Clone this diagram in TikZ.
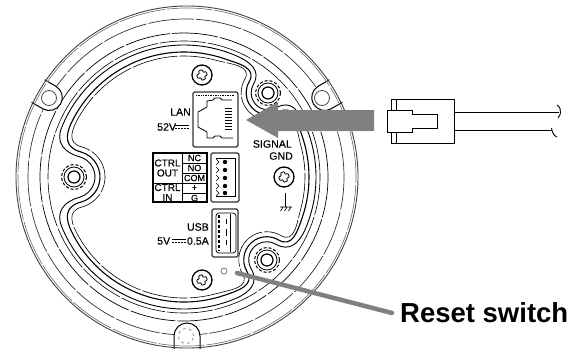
\documentclass[tikz,border=0pt]{standalone}
\usepackage{fontspec}
\setmainfont{Liberation Sans}
\newfontfamily\portfont[FakeBold=0.25]{Liberation Sans}
\usetikzlibrary{calc}

% one channel line of the housing: radius, bump radius, neck angle, style
\newcommand{\channelline}[4]{%
  \foreach \bossangle/\bossdist/\bossgap/\bossextra in {45/119/135/-1,180/110/135/3,315/117/90/0} {
    \begin{scope}[shift={(184,-177)},rotate=\bossangle]
      \draw[#4] (-#3:#1) .. controls +(90-#3:16) and +(345:16) .. ($(\bossdist,0)+(255:{#2+\bossextra})$)
        arc[start angle=255,end angle=105,radius={#2+\bossextra}]
        .. controls +(15:16) and +(270+#3:16) .. (#3:#1)
        arc[start angle=#3,delta angle={\bossgap-2*#3},radius=#1];
    \end{scope}
  }
}

\tikzset{
  lobe/.pic={
    \draw[line width=1pt,fill=white] (172,-13) -- (159,-13)
      arc[start angle=-90,delta angle=-180,radius=13] -- (172,13);
  },
  screwhead/.pic={
    \node[draw,circle,line width=1.3pt,minimum size=20pt,inner sep=0pt] {};
    \draw[rotate=20,line width=.8pt,rounded corners=.8pt] (-2,-2) -- (-2,-5) -- (2,-5) -- (2,-2) -- (5,-2)
      -- (5,2) -- (2,2) -- (2,5) -- (-2,5) -- (-2,2) -- (-5,2) -- (-5,-2) -- cycle;
  },
  boss/.pic={
    \draw[line width=1pt,densely dashed] (0,0) circle[radius=12.5];
    \draw[line width=.8pt] (0,0) circle[radius=10];
    \draw[line width=1.2pt] (0,0) circle[radius=6];
  }
}

\begin{document}
\begin{tikzpicture}[
    x=1pt,y=1pt,
    gapline/.style={dash pattern=on 46pt off 2pt},
    label/.style={font=\portfont\fontsize{10.6pt}{11pt}\selectfont,inner sep=0pt},
    small/.style={font=\portfont\fontsize{9pt}{9pt}\selectfont,inner sep=0pt},
    portedge/.style={draw=black!80,line width=1.3pt,rounded corners=1.5pt},
    greymark/.style={fill=black!50,draw=none},
    reset/.style={draw=black!50,line width=4.5pt,line cap=round}
    ]
    \useasboundingbox (0,0) rectangle (577,-353);

    % rings
    \draw[gapline,black!80,line width=.7pt] (186,-177) circle[radius=158];
    \draw[gapline,line width=.7pt] (184,-177) circle[radius=144];
    \draw[gapline,line width=.6pt] (184,-177) circle[radius=136];
    \channelline{132}{18}{22}{line width=.9pt}
    \channelline{125}{23}{26}{line width=1.1pt}
    \channelline{121}{28}{30}{gapline,line width=.6pt}

    % lobes and outer edge
    \foreach \lobeangle/\lobename in {150/upleft,30/upright,270/bottom}
      \pic (\lobename) [shift={(187,-177)},rotate=\lobeangle] {lobe};
    \draw[black!75,line width=.9pt] (187,-177) circle[radius=171];
    \draw[gapline,black!60,line width=.6pt] (187,-177) circle[radius=169];
    \draw[black!70,line width=.8pt] (49,-98) circle[radius=7.5];
    \draw[black!70,line width=.8pt] (322,-98) circle[radius=7.5];
    \draw[black!50,line width=.7pt,dashed] (186,-336) circle[radius=7.5];

    % bosses and screws
    \pic (bossleft) at (74,-177) {boss};
    \pic (bossup) at (268,-93) {boss};
    \pic (bossdown) at (267,-260) {boss};
    \pic (screwtop) at (202,-75) {screwhead};
    \pic (screwbottom) at (202,-280) {screwhead};
    \pic (screwgnd) at (284,-177) {screwhead};

    % LAN port
    \draw[portedge] (193,-92) rectangle (238,-147);
    \draw[line width=.7pt,densely dotted] (196,-95) -- (235,-95);
    \draw[line width=.8pt] (232,-100) -- (222,-100) -- (220,-98) -- (215,-98) -- (213,-100) -- (207,-101)
      -- (207,-107) -- (198,-112) -- (198,-127) -- (207,-132) -- (207,-138) -- (213,-138) -- (215,-136)
      -- (220,-136) -- (222,-138) -- (233,-138);
    \foreach \pinrow in {108,111,...,130}
      \draw[line width=.8pt] (225,-\pinrow) -- (232,-\pinrow);
    \node[label,anchor=east] (lan) at (191,-112) {LAN};
    \node[label,anchor=west] (lanvolt) at (157,-127) {52V};
    \draw[line width=.6pt] (175,-125.5) -- (189,-125.5);
    \draw[line width=.8pt,dash pattern=on 2pt off 1pt] (175,-128) -- (189,-128);

    % CTRL table
    \draw[line width=1.2pt] (153,-153) rectangle (207,-202);
    \draw[line width=.9pt] (182,-153) -- (182,-202) (153,-183) -- (207,-183)
      (182,-163) -- (207,-163) (182,-173) -- (207,-173) (182,-193) -- (207,-193);
    \node[label,align=center,font=\portfont\fontsize{10pt}{10pt}\selectfont] (ctrlout) at (167.5,-168) {CTRL\\OUT};
    \node[label,align=center,font=\portfont\fontsize{10pt}{10pt}\selectfont] (ctrlin) at (167.5,-192.5) {CTRL\\IN};
    \node[small] (nc) at (194.5,-158) {NC};
    \node[small] (no) at (194.5,-168) {NO};
    \node[small] (com) at (194.5,-178) {COM};
    \node[small] (plus) at (194.5,-188) {+};
    \node[small] (gnd) at (194.5,-198) {G};

    % terminal block
    \draw[portedge] (211,-153) rectangle (239,-202);
    \draw[line width=.7pt] (216,-158) -- (235,-158) -- (235,-196) -- (216,-196);
    \foreach \pinrow in {162,170,178,186,193} {
      \fill (225,-\pinrow) circle[radius=2.2];
      \draw[line width=.6pt] (216,-\pinrow+3) -- (219,-\pinrow) -- (216,-\pinrow-3);
    }

    % USB port
    \draw[portedge] (212,-209) rectangle (238,-257);
    \draw[line width=.7pt,rounded corners=3pt] (216,-213) rectangle (236,-253);
    \draw[line width=1.2pt,densely dashed] (219,-215) -- (219,-251);
    \draw[line width=.9pt] (226,-219) -- (226,-224) (226,-229) -- (226,-236) (226,-240) -- (226,-245);
    \draw[line width=1pt] (230,-214) -- (230,-252);
    \node[label,anchor=east] (usb) at (209,-227) {USB};
    \node[label,anchor=west] (usbvolt) at (157,-241) {5V};
    \node[label,anchor=east] (usbamp) at (209,-241) {0.5A};
    \draw[line width=.6pt] (172,-239.5) -- (186,-239.5);
    \draw[line width=.8pt,dash pattern=on 2pt off 1pt] (172,-242) -- (186,-242);

    % signal ground
    \node[label,anchor=east,align=right] (signal) at (292,-144) {SIGNAL};
    \node[label,anchor=east] (signalgnd) at (293,-156) {GND};
    \coordinate (earthtop) at (285.5,-193);
    \coordinate (earthbase) at (285.5,-207);
    \draw[line width=.7pt] (earthtop) -- (earthbase) (280,-207) -- (292,-207)
      (283,-207) -- (280.5,-211) (287,-207) -- (284.5,-211) (291,-207) -- (288.5,-211);

    % plug and cable
    \draw[line width=.9pt] (391,-99) rectangle (454,-143);
    \draw[line width=.9pt] (396,-99) -- (396,-143);
    \draw[line width=.9pt,fill=white] (412,-110) -- (387,-110) -- (387,-132) -- (412,-132)
      -- (412,-128) -- (437,-128) -- (437,-114) -- (412,-114) -- cycle;
    \draw[line width=.9pt] (454,-112) -- (559,-112);
    \draw[line width=.9pt] (454,-130) -- (552,-130);
    \draw[line width=.9pt] (557,-105) .. controls (560,-107) and (561,-110) .. (560.5,-113) .. controls (560,-115) and (559,-117) .. (558,-118);
    \draw[line width=.9pt] (551.5,-128) .. controls (552,-132) and (554,-136) .. (557,-137);

    % block arrow to the LAN port
    \path[greymark] (246,-120) -- (278,-102) -- (278,-110) -- (374,-110) -- (374,-131)
      -- (278,-131) -- (278,-138) -- cycle;

    % reset switch
    \node[draw=black!60,line width=.7pt,circle,minimum size=6pt,inner sep=0pt] (resethole) at (224,-271) {};
    \coordinate (resetend) at (237,-273);
    \node[anchor=west,inner sep=0pt,inner xsep=8pt,font=\fontsize{27.5pt}{28pt}\selectfont\bfseries] (resetlabel)
      at (392,-313) {Reset switch};
    \draw[reset] (resetend) -- (resetlabel.west);

  \end{tikzpicture}
\end{document}
